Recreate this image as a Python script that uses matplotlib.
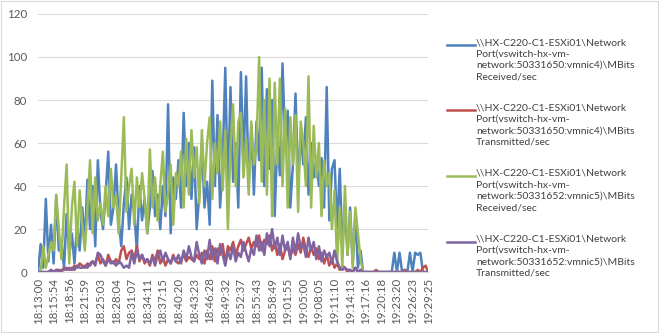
import matplotlib
matplotlib.use('Agg')
import matplotlib.pyplot as plt
from matplotlib.lines import Line2D
from matplotlib.patches import Rectangle

# tick labels, one every 6 points
time_labels = ['18:13:00', '18:15:54', '18:18:56', '18:21:59', '18:25:03', '18:28:04',
               '18:31:07', '18:34:11', '18:37:15', '18:40:20', '18:43:23', '18:46:28',
               '18:49:32', '18:52:37', '18:55:43', '18:58:49', '19:01:55', '19:05:00',
               '19:08:05', '19:11:10', '19:14:13', '19:17:16', '19:20:18', '19:23:20',
               '19:26:23', '19:29:25']

vmnic4_rx = [0, 13, 2, 34, 5, 22,
             4, 35, 10, 14, 2, 27,
             8, 18, 4, 22, 10, 30,
             14, 43, 20, 40, 12, 52,
             28, 20, 36, 56, 22, 30,
             50, 24, 12, 32, 44, 20,
             36, 28, 10, 40, 24, 34,
             18, 30, 47, 26, 36, 20,
             40, 26, 78, 18, 44, 34,
             52, 30, 74, 40, 60, 34,
             58, 20, 36, 60, 30, 42,
             22, 89, 40, 73, 30, 52,
             95, 36, 86, 42, 60, 30,
             93, 50, 91, 40, 68, 36,
             70, 52, 95, 40, 85, 48,
             80, 26, 62, 45, 97, 60,
             75, 30, 50, 83, 42, 64,
             50, 72, 36, 60, 44, 52,
             40, 53, 30, 86, 24, 48,
             52, 20, 48, 12, 30, 8,
             30, 4, 26, 2, 10, 0,
             0, 0, 0, 0, 0, 0,
             0, 0, 0, 0, 0, 9,
             0, 9, 0, 1, 0, 9,
             0, 9, 8, 9, 0, 0,
             0]

vmnic4_tx = [0, 0, 0, 0, 0, 1,
             0, 1, 1, 0, 2, 1,
             2, 1, 3, 2, 4, 3,
             2, 4, 3, 5, 4, 8,
             4, 6, 3, 8, 5, 4,
             6, 4, 10, 12, 6, 9,
             10, 6, 12, 5, 8, 4,
             6, 3, 8, 5, 10, 4,
             7, 3, 6, 4, 8, 5,
             4, 6, 8, 5, 7, 6,
             5, 8, 6, 9, 4, 10,
             6, 12, 5, 11, 8, 13,
             4, 12, 10, 14, 8, 12,
             15, 10, 13, 16, 11, 14,
             12, 17, 10, 15, 13, 17,
             10, 14, 8, 13, 6, 10,
             12, 7, 11, 8, 13, 9,
             16, 10, 7, 12, 8, 11,
             6, 9, 4, 8, 3, 6,
             2, 4, 1, 3, 2, 0,
             1, 0, 2, 0, 1, 0,
             0, 0, 0, 0, 1, 0,
             0, 0, 0, 0, 0, 0,
             0, 0, 0, 1, 0, 0,
             0, 0, 1, 0, 2, 3,
             0]

vmnic5_rx = [0, 0, 12, 2, 8, 14,
             10, 36, 20, 6, 30, 50,
             4, 30, 42, 12, 38, 22,
             10, 30, 52, 18, 44, 24,
             32, 22, 40, 26, 48, 30,
             36, 18, 44, 72, 28, 40,
             48, 22, 44, 30, 46, 34,
             18, 57, 30, 44, 24, 40,
             56, 28, 36, 50, 22, 46,
             40, 56, 30, 62, 36, 66,
             44, 58, 32, 66, 40, 60,
             72, 34, 60, 46, 70, 38,
             66, 20, 58, 78, 40, 70,
             74, 44, 62, 36, 70, 50,
             58, 100, 42, 80, 36, 90,
             26, 88, 50, 90, 40, 76,
             30, 72, 50, 73, 28, 70,
             60, 40, 91, 30, 68, 44,
             60, 26, 52, 40, 46, 20,
             38, 4, 30, 2, 40, 8,
             28, 2, 30, 18, 6, 0,
             0, 0, 0, 0, 0, 0,
             0, 0, 0, 0, 0, 0,
             0, 0, 0, 0, 0, 0,
             0, 0, 0, 0, 0, 0,
             0]

vmnic5_tx = [0, 0, 0, 0, 0, 1,
             0, 1, 0, 1, 1, 2,
             1, 2, 1, 3, 2, 2,
             3, 2, 4, 5, 3, 9,
             8, 5, 3, 6, 4, 5,
             3, 5, 4, 2, 3, 2,
             9, 4, 10, 6, 8, 5,
             6, 4, 7, 3, 8, 10,
             5, 9, 6, 4, 7, 5,
             8, 4, 10, 6, 12, 7,
             5, 14, 8, 4, 10, 6,
             15, 6, 11, 4, 13, 8,
             3, 10, 6, 12, 5, 9,
             7, 14, 9, 5, 11, 8,
             17, 10, 14, 8, 18, 12,
             20, 11, 16, 8, 17, 10,
             14, 6, 16, 9, 18, 11,
             13, 7, 16, 10, 14, 6,
             12, 5, 10, 7, 9, 4,
             10, 5, 2, 1, 2, 1,
             1, 0, 2, 0, 1, 0,
             0, 0, 0, 0, 0, 0,
             0, 0, 0, 0, 0, 0,
             0, 0, 0, 0, 0, 0,
             0, 0, 0, 0, 0, 0,
             0]

series_names = [
    '\\\\HX-C220-C1-ESXi01\\Network\nPort(vswitch-hx-vm-\nnetwork:50331650:vmnic4)\\MBits\nReceived/sec',
    '\\\\HX-C220-C1-ESXi01\\Network\nPort(vswitch-hx-vm-\nnetwork:50331650:vmnic4)\\MBits\nTransmitted/sec',
    '\\\\HX-C220-C1-ESXi01\\Network\nPort(vswitch-hx-vm-\nnetwork:50331652:vmnic5)\\MBits\nReceived/sec',
    '\\\\HX-C220-C1-ESXi01\\Network\nPort(vswitch-hx-vm-\nnetwork:50331652:vmnic5)\\MBits\nTransmitted/sec',
]
colors = ['#4F81BD', '#C0504D', '#9BBB59', '#8064A2']

plt.rcParams['font.family'] = ['Lato', 'DejaVu Sans']

fig = plt.figure(figsize=(6.59, 3.33), dpi=100)
ax = fig.add_axes([0.0577, 0.183, 0.592, 0.775])

x = list(range(len(vmnic4_rx)))
for ys, c in zip([vmnic4_rx, vmnic4_tx, vmnic5_rx, vmnic5_tx], colors):
    ax.plot(x, ys, color=c, lw=1.8, solid_joinstyle='round')

ax.set_xlim(0, len(x) - 1)
ax.set_ylim(0, 120)
ax.set_yticks(range(0, 121, 20))
ax.set_xticks(range(0, len(x), 6))
ax.set_xticklabels(time_labels, rotation=90)
ax.tick_params(length=0, colors='#595959', labelsize=8.3)
ax.tick_params(axis='x', pad=4)
ax.tick_params(axis='y', pad=8)
ax.grid(axis='y', color='#d9d9d9', lw=0.8)
ax.set_axisbelow(True)
for s in ['top', 'right', 'left']:
    ax.spines[s].set_visible(False)
ax.spines['bottom'].set_color('#d9d9d9')

# legend drawn by hand so the line sits at the first text row
for i, (name, c) in enumerate(zip(series_names, colors)):
    ytop = 1 - (38 + i * 65.5) / 333
    fig.add_artist(Line2D([447 / 659, 475 / 659], [ytop - 7 / 333] * 2,
                          color=c, lw=1.8, transform=fig.transFigure))
    fig.text(476 / 659, ytop, name, fontsize=7.5, color='#404040',
             va='top', ha='left', linespacing=1.35)

fig.add_artist(Rectangle((0.001, 0.002), 0.997, 0.995, transform=fig.transFigure,
                         fill=False, edgecolor='#d9d9d9', lw=0.8))

fig.savefig('out.png', dpi=100)
